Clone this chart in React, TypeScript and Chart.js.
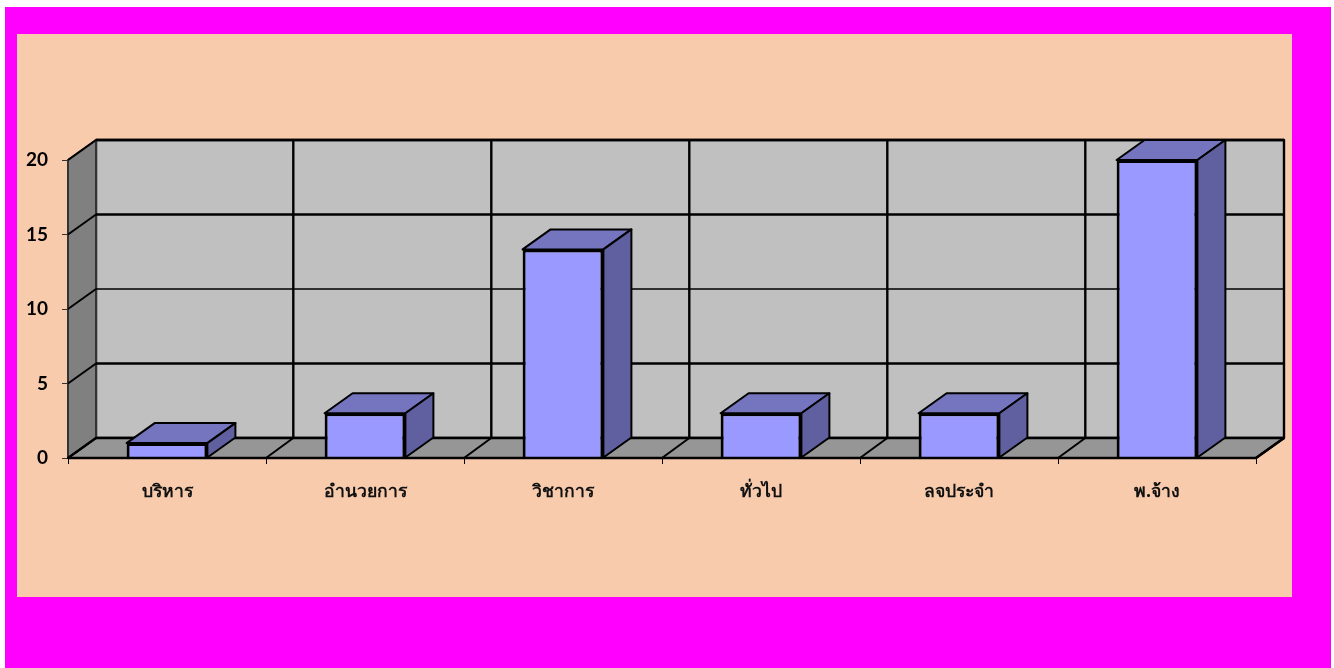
import React, { useEffect, useRef } from "react";
import { Chart, registerables } from "chart.js";

Chart.register(...registerables);

const categories = ["บริหาร", "อำนวยการ", "วิชาการ", "ทั่วไป", "ลจประจำ", "พ.จ้าง"];
const values = [1, 3, 14, 3, 3, 20];
const yTicks = [0, 5, 10, 15, 20];

const DX = 28;
const DY = -20;
const FONT = '"Open Sans", "Noto Sans", "Liberation Sans", sans-serif';
const NUM_FONT = 'Lato, "Open Sans", sans-serif';

const poly = (ctx: CanvasRenderingContext2D, pts: number[][], fill: string | null, stroke = "#000", lw = 2) => {
  ctx.beginPath();
  pts.forEach(([x, y], i) => (i ? ctx.lineTo(x, y) : ctx.moveTo(x, y)));
  ctx.closePath();
  if (fill) {
    ctx.fillStyle = fill;
    ctx.fill();
  }
  ctx.strokeStyle = stroke;
  ctx.lineWidth = lw;
  ctx.lineJoin = "round";
  ctx.stroke();
};

const line = (ctx: CanvasRenderingContext2D, x1: number, y1: number, x2: number, y2: number, lw = 2) => {
  ctx.beginPath();
  ctx.moveTo(x1, y1);
  ctx.lineTo(x2, y2);
  ctx.strokeStyle = "#000";
  ctx.lineWidth = lw;
  ctx.stroke();
};

const box3d = {
  id: "box3d",
  beforeDatasetsDraw(chart: any) {
    const { ctx, chartArea: a, scales } = chart;
    const y = scales.y;
    const x = scales.x;
    const l = a.left, r = a.right, t = a.top, b = a.bottom;
    ctx.save();
    // back wall
    poly(ctx, [[l + DX, t + DY], [r + DX, t + DY], [r + DX, b + DY], [l + DX, b + DY]], "#C0C0C0", "#000", 2.4);
    // left wall
    poly(ctx, [[l, t], [l + DX, t + DY], [l + DX, b + DY], [l, b]], "#808080", "#333", 2);
    // floor
    poly(ctx, [[l, b], [l + DX, b + DY], [r + DX, b + DY], [r, b]], "#969696", "#000", 2.2);
    // horizontal grid, wall part and back part
    yTicks.forEach((v) => {
      const py = y.getPixelForValue(v);
      line(ctx, l, py, l + DX, py + DY, 2);
      line(ctx, l + DX, py + DY, r + DX, py + DY, v === 10 ? 1.6 : 2.4);
    });
    // vertical grid + floor diagonals at category boundaries
    categories.forEach((_, i) => {
      if (i === 0) return;
      const px = (x.getPixelForValue(i - 1) + x.getPixelForValue(i)) / 2;
      line(ctx, px + DX - 0.7, t + DY, px + DX - 0.7, b + DY, 2.4);
      line(ctx, px, b, px + DX - 0.7, b + DY, 2);
    });
    line(ctx, r, b, r + DX, b + DY, 2.4);
    // bar side and top faces
    chart.getDatasetMeta(0).data.forEach((el: any) => {
      const half = el.width / 2;
      const xl = el.x - half, xr = el.x + half;
      poly(ctx, [[xl, el.y], [xl + DX, el.y + DY], [xr + DX, el.y + DY], [xr, el.y]], "#7575BF", "#000", 2);
      poly(ctx, [[xr, el.y], [xr + DX, el.y + DY], [xr + DX, el.base + DY], [xr, el.base]], "#6060A0", "#000", 2);
    });
    ctx.restore();
  },
  afterDatasetsDraw(chart: any) {
    const { ctx, chartArea: a } = chart;
    ctx.save();
    line(ctx, a.left, a.bottom, a.right, a.bottom, 2.6);
    ctx.restore();
  },
};

export default function App() {
  const ref = useRef<HTMLCanvasElement | null>(null);
  useEffect(() => {
    const chart = new Chart(ref.current!, {
      type: "bar",
      data: {
        labels: categories,
        datasets: [
          {
            data: values,
            backgroundColor: "#9999FF",
            borderColor: "#000000",
            borderWidth: 3,
            barPercentage: 0.408,
            categoryPercentage: 1,
          },
        ],
      },
      options: {
        animation: false,
        responsive: false,
        devicePixelRatio: 1,
        layout: { padding: { left: 0, right: 78, top: 160, bottom: 0 } },
        plugins: { legend: { display: false }, tooltip: { enabled: false } },
        scales: {
          x: {
            offset: true,
            border: { display: false },
            grid: { display: true, drawOnChartArea: false, drawTicks: true, tickLength: 6, color: "#000", lineWidth: 1 },
            ticks: { color: "#111", padding: 17, maxRotation: 0, font: { family: FONT, size: 17.6, weight: "bold" } },
            afterFit: (s: any) => { s.height = 668 - 458; },
          },
          y: {
            min: 0,
            max: 20,
            border: { display: false },
            grid: { display: true, drawOnChartArea: false, drawTicks: true, tickLength: 6, color: "#333", lineWidth: 1 },
            ticks: { stepSize: 5, color: "#000", padding: 14, font: { family: NUM_FONT, size: 19, weight: "bold" } },
            afterFit: (s: any) => { s.width = 68; },
          },
        },
      },
      plugins: [box3d],
    } as any);
    return () => chart.destroy();
  }, []);

  return (
    <div style={{ position: "absolute", left: 0, top: 0, width: 1334, height: 668, background: "#fff", overflow: "hidden" }}>
      <div style={{ position: "absolute", left: 5, top: 7, width: 1326, height: 661, background: "#FF00FF" }} />
      <div style={{ position: "absolute", left: 17, top: 34, width: 1275, height: 563, background: "#F8CBAD" }} />
      <canvas ref={ref} width={1334} height={668} style={{ position: "absolute", left: 0, top: 0, display: "block" }} />
    </div>
  );
}
